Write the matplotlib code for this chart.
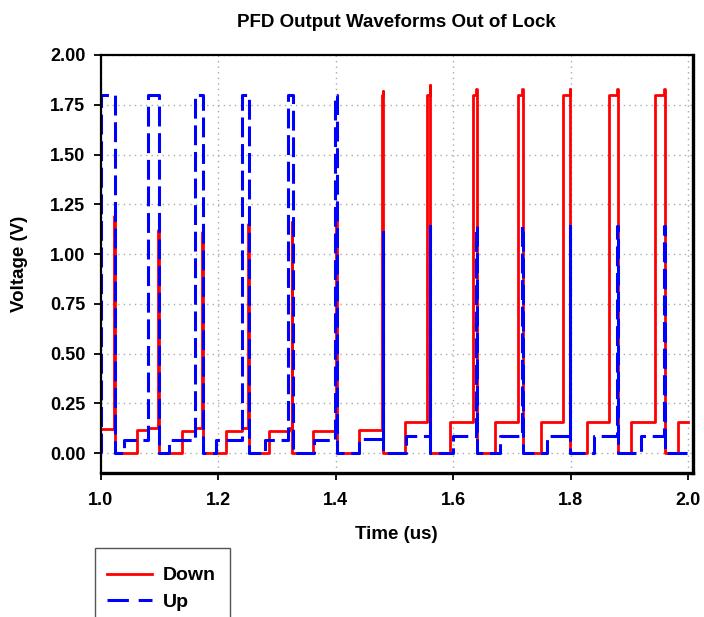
import matplotlib
matplotlib.use('Agg')
import matplotlib.pyplot as plt
from matplotlib.lines import Line2D
from matplotlib.patches import Rectangle

plt.rcParams['font.family'] = ['Liberation Sans', 'DejaVu Sans']
plt.rcParams['font.weight'] = 'bold'

# Down output (steps-post breakpoints, time in us, voltage in V)
down_t = [1.000,
          1.023, 1.024, 1.061, 1.081,
          1.098, 1.099, 1.138, 1.160,
          1.173, 1.174, 1.213, 1.240,
          1.251, 1.252, 1.286, 1.320,
          1.325, 1.326, 1.362, 1.399,
          1.401, 1.402, 1.440,
          1.479, 1.480, 1.481, 1.518,
          1.556, 1.560, 1.561, 1.595,
          1.633, 1.639, 1.640, 1.671,
          1.710, 1.717, 1.718, 1.750,
          1.787, 1.798, 1.799, 1.827,
          1.865, 1.879, 1.880, 1.903,
          1.943, 1.959, 1.960, 1.982,
          2.000]
down_v = [0.12,
          1.19, 0.0, 0.115, 0.128,
          1.12, 0.0, 0.11, 0.125,
          1.11, 0.0, 0.11, 0.125,
          1.15, 0.0, 0.11, 0.125,
          1.16, 0.0, 0.11, 0.125,
          1.17, 0.0, 0.117,
          1.80, 1.82, 0.0, 0.154,
          1.80, 1.85, 0.0, 0.154,
          1.80, 1.83, 0.0, 0.154,
          1.80, 1.83, 0.0, 0.154,
          1.80, 1.83, 0.0, 0.154,
          1.80, 1.83, 0.0, 0.154,
          1.80, 1.83, 0.0, 0.158,
          0.158]

# Up output
up_t = [1.000, 1.001,
        1.024, 1.040, 1.081,
        1.099, 1.117, 1.160,
        1.174, 1.197, 1.240,
        1.252, 1.279, 1.319,
        1.327, 1.363, 1.398,
        1.402, 1.440,
        1.480, 1.481, 1.520,
        1.560, 1.561, 1.600,
        1.639, 1.640, 1.680,
        1.717, 1.718, 1.760,
        1.798, 1.799, 1.840,
        1.879, 1.880, 1.920,
        1.959, 1.960,
        2.000]
up_v = [0.0, 1.80,
        0.0, 0.067, 1.80,
        0.0, 0.067, 1.80,
        0.0, 0.067, 1.80,
        0.0, 0.067, 1.80,
        0.0, 0.067, 1.80,
        0.0, 0.07,
        1.11, 0.0, 0.087,
        1.14, 0.0, 0.087,
        1.14, 0.0, 0.087,
        1.14, 0.0, 0.087,
        1.14, 0.0, 0.087,
        1.14, 0.0, 0.087,
        1.14, 0.0,
        0.0]

x_ticks = [1.0, 1.2, 1.4, 1.6, 1.8, 2.0]
y_ticks = [0.0, 0.25, 0.5, 0.75, 1.0, 1.25, 1.5, 1.75, 2.0]

fig = plt.figure(figsize=(7.04, 6.17), dpi=100)
ax = fig.add_axes([0.143, 0.2334, 0.8413, 0.6775])

ax.plot(down_t, down_v, drawstyle='steps-post', color='#ff0000', lw=2.0, label='Down')
ax.plot(up_t, up_v, drawstyle='steps-post', color='#0000ff', lw=2.2,
        linestyle=(0, (6.5, 2.2)), label='Up')

ax.set_xlim(1.0, 2.008)
ax.set_ylim(-0.1, 2.0)
ax.set_xticks(x_ticks)
ax.set_xticklabels(['%.1f' % v for v in x_ticks])
ax.set_yticks(y_ticks)
ax.set_yticklabels(['%.2f' % v for v in y_ticks])
ax.tick_params(direction='out', length=5, width=1.3, labelsize=13)
ax.tick_params(axis='x', pad=9)
ax.tick_params(axis='y', pad=6)
for lab in ax.get_xticklabels() + ax.get_yticklabels():
    lab.set_fontweight('bold')

ax.grid(True, linestyle=(0, (1, 3)), color='#aaaaaa', lw=1.0)

for side in ['left', 'top']:
    ax.spines[side].set_linewidth(1.6)
for side in ['right', 'bottom']:
    ax.spines[side].set_linewidth(2.4)

ax.set_title('PFD Output Waveforms Out of Lock', fontsize=13.5, fontweight='bold', pad=20)
ax.set_xlabel('Time (us)', fontsize=13.5, fontweight='bold', labelpad=12)
ax.set_ylabel('Voltage (V)', fontsize=13.5, fontweight='bold', labelpad=16)

# legend box runs off the bottom edge of the figure
fig.patches.append(Rectangle((0.135, -0.05), 0.1918, 0.1618, transform=fig.transFigure,
                             facecolor='white', edgecolor='#555555', lw=1.0, zorder=0))

handles = [Line2D([], [], color='#ff0000', lw=2.0),
           Line2D([], [], color='#0000ff', lw=2.2, linestyle=(0, (7, 3.2)))]
leg = fig.legend(handles, ['Down', 'Up'], loc='upper left', bbox_to_anchor=(0.152, 0.0815),
                 fontsize=14, frameon=False, handlelength=2.3, handletextpad=0.55,
                 borderpad=0, labelspacing=0.45, borderaxespad=0)
for t in leg.get_texts():
    t.set_fontweight('bold')

fig.savefig('out.png', dpi=100)
